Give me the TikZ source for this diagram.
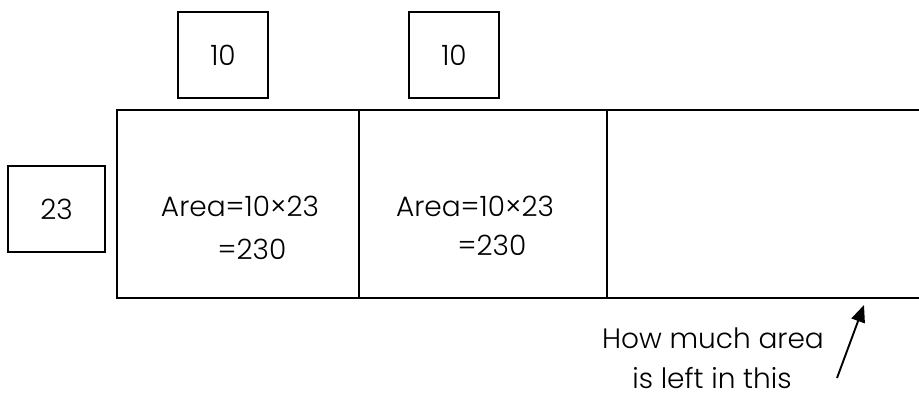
\documentclass[tikz,border=0pt]{standalone}
\usepackage{fontspec}
\setmainfont{Poppins Light}
\usetikzlibrary{arrows.meta}
\begin{document}
\begin{tikzpicture}[x=1pt,y=-1pt,
  numbox/.style={draw,line width=1.8pt,minimum width=90pt,minimum height=86pt,inner sep=0pt,font=\fontsize{28}{32}\selectfont},
  lbl/.style={inner sep=0pt,font=\fontsize{28}{32}\selectfont},
  edge/.style={line width=2.4pt}]
\useasboundingbox (0,0) rectangle (919,397);
\node[numbox] (t1) at (223,55) {10};
\node[numbox] (t2) at (454,55) {10};
\node[numbox,minimum width=97pt] (s) at (56.5,209) {23};
\coordinate (tl) at (117,110);
\coordinate (tr) at (919,110);
\coordinate (bl) at (117,298);
\coordinate (br) at (919,298);
\coordinate (d1t) at (359,110);
\coordinate (d1b) at (359,298);
\coordinate (d2t) at (607,110);
\coordinate (d2b) at (607,298);
\draw[edge] (tr) -- (tl) -- (bl) -- (br);
\draw[line width=1.9pt] (d1t) -- (d1b);
\draw[line width=1.9pt] (d2t) -- (d2b);
\node[lbl] (a1) at (240,206.5) {Area=10×23};
\node[lbl] (b1) at (252,249) {=230};
\node[lbl] (a2) at (475,206) {Area=10×23};
\node[lbl] (b2) at (492,245) {=230};
\node[lbl,anchor=base] (q1) at (713,348) {How much area};
\node[lbl,anchor=base] (q2) at (712,388) {is left in this};
\coordinate (ae) at (837,378);
\coordinate (at) at (864,305);
\draw[line width=1.9pt,-{Triangle[length=17pt,width=14pt]}] (ae) -- (at);
\end{tikzpicture}
\end{document}
